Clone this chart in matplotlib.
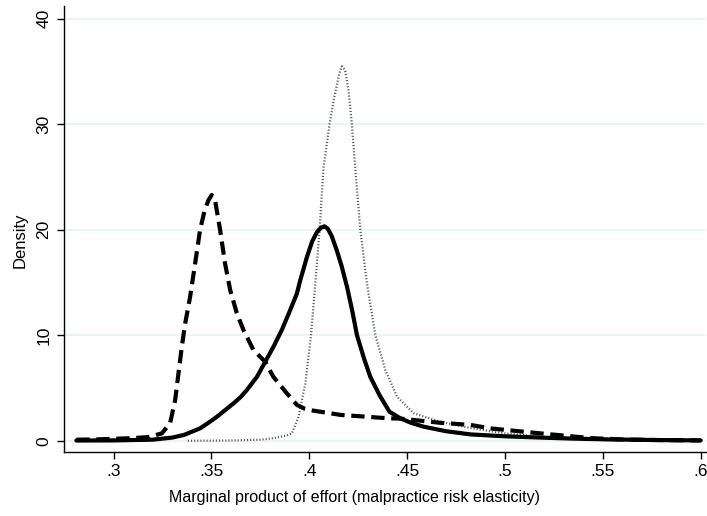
import matplotlib
matplotlib.use("Agg")
import matplotlib.pyplot as plt

# kernel density curves
solid_x = [0.281, 0.30, 0.32, 0.33, 0.336, 0.3442, 0.3485, 0.3528, 0.357, 0.3613, 0.3650, 0.3681,
           0.3733, 0.3775, 0.3817, 0.3860, 0.3903, 0.3937, 0.3954, 0.3988, 0.4015, 0.4040,
           0.4060, 0.4078, 0.4095, 0.4115, 0.4140, 0.4165, 0.4193, 0.422, 0.4244, 0.428,
           0.4312, 0.436, 0.441, 0.4466, 0.452, 0.4585, 0.47, 0.4824, 0.50, 0.518, 0.535,
           0.552, 0.575, 0.60]
solid_y = [0.02, 0.03, 0.1, 0.3, 0.55, 1.17, 1.7, 2.27, 2.9, 3.54, 4.15, 4.8,
           6.06, 7.48, 8.9, 10.5, 12.4, 13.96, 15.2, 17.4, 18.9, 19.8,
           20.2, 20.33, 20.1, 19.4, 18.1, 16.6, 14.6, 12.3, 10.0, 7.8,
           6.06, 4.3, 2.75, 2.12, 1.7, 1.33, 0.9, 0.6, 0.42, 0.3, 0.2,
           0.13, 0.07, 0.03]

dash_x = [0.281, 0.29, 0.30, 0.31, 0.318, 0.3247, 0.3289, 0.3315, 0.3332, 0.3349, 0.3366,
          0.3391, 0.3417, 0.3442, 0.3465, 0.3485, 0.3502, 0.3519, 0.3545, 0.3570, 0.3596,
          0.3630, 0.3664, 0.3715, 0.3775, 0.3817, 0.3886, 0.3937, 0.3975, 0.4005, 0.416,
          0.441, 0.4466, 0.467, 0.4824, 0.4926, 0.518, 0.5437, 0.56, 0.58, 0.60]
dash_y = [0.1, 0.12, 0.18, 0.25, 0.35, 0.7, 1.65, 3.85, 6.4, 8.9, 11.1,
          13.6, 16.8, 19.95, 21.8, 22.8, 23.3, 22.8, 19.95, 16.8, 14.3,
          12.1, 10.5, 8.6, 7.48, 6.06, 4.49, 3.4, 3.05, 2.9, 2.45,
          2.12, 2.1, 1.7, 1.5, 1.17, 0.7, 0.25, 0.12, 0.06, 0.03]

dot_x = [0.338, 0.36, 0.375, 0.382, 0.3886, 0.3912, 0.3945, 0.3980, 0.4009, 0.4031, 0.4053,
         0.4073, 0.4104, 0.4125, 0.4142, 0.4155, 0.4167, 0.4184, 0.4201, 0.4218, 0.4235,
         0.4261, 0.4295, 0.4338, 0.4389, 0.4449, 0.4534, 0.467, 0.4824, 0.50, 0.52, 0.54,
         0.56]
dot_y = [0.0, 0.02, 0.1, 0.25, 0.5, 0.7, 2.27, 5.4, 10.0, 14.9, 20.0,
         25.9, 30.0, 32.3, 33.8, 34.9, 35.5, 35.1, 33.2, 30.0, 25.9,
         20.0, 14.9, 10.0, 6.7, 4.17, 2.6, 1.8, 1.2, 0.7, 0.35, 0.15,
         0.05]

xticks = [0.3, 0.35, 0.4, 0.45, 0.5, 0.55, 0.6]
xtick_labels = [".3", ".35", ".4", ".45", ".5", ".55", ".6"]
yticks = [0, 10, 20, 30, 40]

plt.rcParams['font.family'] = ['Liberation Sans', 'DejaVu Sans']

fig = plt.figure(figsize=(7.07, 5.16), dpi=100)
ax = fig.add_axes([0.0905, 0.1246, 0.908, 0.8634])

ax.plot(dot_x, dot_y, color='#555555', lw=1.6, dashes=(0.5, 0.9), zorder=2)
ax.plot(solid_x, solid_y, color='black', lw=3.0, solid_capstyle='round',
        solid_joinstyle='round', zorder=3)
ax.plot(dash_x, dash_y, color='black', lw=3.0, dashes=(3.2, 1.6), zorder=3)

ax.set_xlim(0.2747, 0.6027)
ax.set_ylim(-1.04, 41.2)
ax.set_xticks(xticks)
ax.set_xticklabels(xtick_labels)
ax.set_yticks(yticks)
ax.set_yticklabels([str(v) for v in yticks], rotation=90, va='center')
ax.tick_params(axis='both', labelsize=12.5, length=5, width=1, direction='out', pad=4)
ax.yaxis.grid(True, color='#eaf2f3', lw=1.2)
ax.set_axisbelow(True)

for side in ['top', 'right']:
    ax.spines[side].set_visible(False)
for side in ['left', 'bottom']:
    ax.spines[side].set_linewidth(1.0)

ax.set_xlabel("Marginal product of effort (malpractice risk elasticity)", fontsize=11.5)
ax.xaxis.set_label_coords(0.453, -0.085)
ax.set_ylabel("Density", fontsize=12)
ax.yaxis.set_label_coords(-0.056, 0.475)

fig.savefig("out.png", dpi=100)
